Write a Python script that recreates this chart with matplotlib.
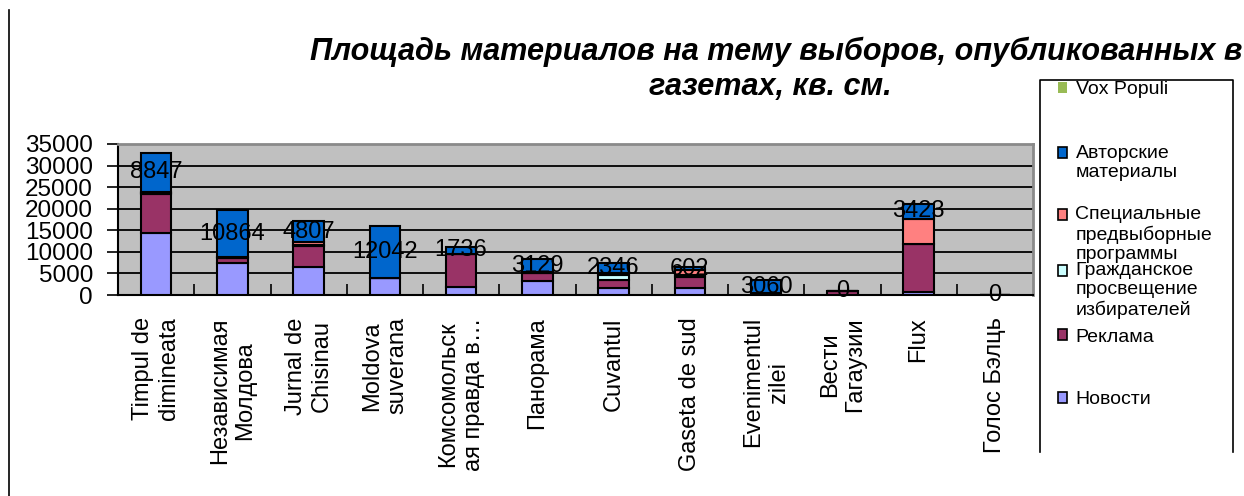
import matplotlib
matplotlib.use("Agg")
import matplotlib.pyplot as plt
import numpy as np
from matplotlib.patches import Rectangle, Patch
from matplotlib.lines import Line2D
from matplotlib.legend_handler import HandlerPatch

# ---------------- data ----------------
categories = ["Timpul de\ndimineata", "Независимая\nМолдова", "Jurnal de\nChisinau",
              "Moldova\nsuverana", "Комсомольск\nая правда в…", "Панорама", "Cuvantul",
              "Gaseta de sud", "Evenimentul\nzilei", "Вести\nГагаузии", "Flux", "Голос Бэлць"]

novosti = [14450, 7400, 6450, 3950, 1800, 3200, 1600, 1550, 430, 100, 800, 0]
reklama = [8900, 1100, 4800, 0, 7700, 1800, 1800, 2550, 0, 900, 11100, 0]
grazhd = [300, 150, 350, 0, 0, 100, 1150, 500, 0, 0, 0, 0]
spec = [340, 100, 700, 0, 0, 150, 470, 1200, 0, 0, 5800, 0]
avtor = [8847, 10864, 4807, 12042, 1736, 3129, 2346, 602, 3060, 0, 3423, 0]
vox = [0, 0, 0, 0, 0, 0, 0, 0, 0, 0, 0, 0]

series_names = ["Новости", "Реклама", "Гражданское\nпросвещение\nизбирателей",
                "Специальные\nпредвыборные\nпрограммы", "Авторские\nматериалы", "Vox Populi"]
series_vals = [novosti, reklama, grazhd, spec, avtor, vox]
series_colors = ["#9999FF", "#993366", "#CCFFFF", "#FF8080", "#0066CC", "#99BB55"]

yticks = [0, 5000, 10000, 15000, 20000, 25000, 30000, 35000]
title_lines = ["Площадь материалов на тему выборов, опубликованных в",
               "газетах, кв. см."]

# ---------------- layout ----------------
plt.rcParams['font.family'] = ['Liberation Sans', 'DejaVu Sans']
W, H = 1244, 496
fig = plt.figure(figsize=(W / 100, H / 100), dpi=100)


def fx(px):
    return px / W


def fy(py):
    return 1 - py / H


ax = fig.add_axes([fx(118), fy(295), fx(1033) - fx(118), fy(144) - fy(295)])
ax.set_facecolor('#C0C0C0')

x = np.arange(len(categories))
bottom = np.zeros(len(categories))
handles = []
for name, vals, col in zip(series_names, series_vals, series_colors):
    vals = np.array(vals, dtype=float)
    lw = 0 if name == "Vox Populi" else 1.5
    ax.bar(x, vals, 0.4, bottom=bottom, color=col, edgecolor='black',
           linewidth=lw, zorder=3)
    if name.startswith("Авторские"):
        for xi, b, v in zip(x, bottom, vals):
            ax.text(xi, b + v / 2, f"{int(v)}", ha='center', va='center',
                    fontsize=17, zorder=5, color='black')
    handles.append(Patch(facecolor=col, edgecolor='black' if lw else col,
                         linewidth=1.2 if lw else 0, label=name))
    bottom += vals

ax.set_xlim(-0.5, len(categories) - 0.5)
ax.set_ylim(0, 35000)
ax.yaxis.grid(True, color='black', linewidth=1.3, zorder=1)
ax.set_axisbelow(True)

for s in ['top', 'right']:
    ax.spines[s].set_color('#8a8a8a')
    ax.spines[s].set_linewidth(2)
for s in ['left', 'bottom']:
    ax.spines[s].set_color('black')
    ax.spines[s].set_linewidth(1.5)

ax.set_yticks(yticks)
ax.set_yticklabels([str(v) for v in yticks], fontsize=17.5)
ax.tick_params(axis='y', direction='out', length=8, width=1.2, pad=10)

ax.set_xticks(x)
ax.set_xticklabels(categories, rotation=90, fontsize=17, va='top', ha='center',
                   multialignment='center')
ax.tick_params(axis='x', which='major', length=0, pad=16)
ax.set_xticks(np.arange(0.5, len(categories) - 1, 1), minor=True)
ax.tick_params(axis='x', which='minor', direction='in', length=8, width=1.2)

# ---------------- title (fit width) ----------------
fig.canvas.draw()
renderer = fig.canvas.get_renderer()
tmp = fig.text(0, 0, title_lines[0], fontsize=20, fontweight='bold',
               fontstyle='italic')
wpx = tmp.get_window_extent(renderer).width
tmp.remove()
tsize = 20 * 934 / wpx
fig.text(fx(776), fy(52), title_lines[0], ha='center', va='center', fontsize=tsize,
         fontweight='bold', fontstyle='italic')
fig.text(fx(770), fy(87), title_lines[1], ha='center', va='center', fontsize=tsize,
         fontweight='bold', fontstyle='italic')

# ---------------- legend ----------------
LEG_FS = 14
LEG_LS = 1.2
t1 = fig.text(0, 0, "Ap", fontsize=LEG_FS, linespacing=LEG_LS)
t2 = fig.text(0, 0, "Ap\nAp", fontsize=LEG_FS, linespacing=LEG_LS)
step_px = t2.get_window_extent(renderer).height - t1.get_window_extent(renderer).height
t1.remove()
t2.remove()
step_pts = step_px * 72 / 100


class FirstLineHandler(HandlerPatch):
    def __init__(self, shift_pts):
        super().__init__()
        self.shift = shift_pts

    def create_artists(self, legend, orig_handle, xdescent, ydescent, width,
                       height, fontsize, trans):
        p = Rectangle((-xdescent, -ydescent + self.shift), width, height)
        self.update_prop(p, orig_handle, legend)
        p.set_transform(trans)
        return [p]


legend_first_line = {"Vox Populi": 90, "Авторские\nматериалы": 153,
                     "Специальные\nпредвыборные\nпрограммы": 215,
                     "Гражданское\nпросвещение\nизбирателей": 271,
                     "Реклама": 337, "Новости": 400}
for h in handles:
    lab = h.get_label()
    n = lab.count("\n") + 1
    center = legend_first_line[lab] + (n - 1) / 2 * step_px
    leg = fig.legend(handles=[h], labels=[lab], loc='center left',
                     bbox_to_anchor=(fx(1058), fy(center)),
                     frameon=False, borderpad=0, borderaxespad=0, fontsize=LEG_FS,
                     handlelength=0.45, handleheight=0.45, handletextpad=0.45,
                     handler_map={h: FirstLineHandler((n - 1) / 2 * step_pts)})
    for t in leg.get_texts():
        t.set_linespacing(LEG_LS)

fig.add_artist(Line2D([fx(1040), fx(1040), fx(1233), fx(1233)],
                      [fy(452), fy(80), fy(80), fy(452)],
                      transform=fig.transFigure, color='black', linewidth=1.2))
fig.add_artist(Line2D([fx(8.5), fx(8.5)], [fy(10), 0],
                      transform=fig.transFigure, color='black', linewidth=1.2))

fig.savefig("out.png", dpi=100)
